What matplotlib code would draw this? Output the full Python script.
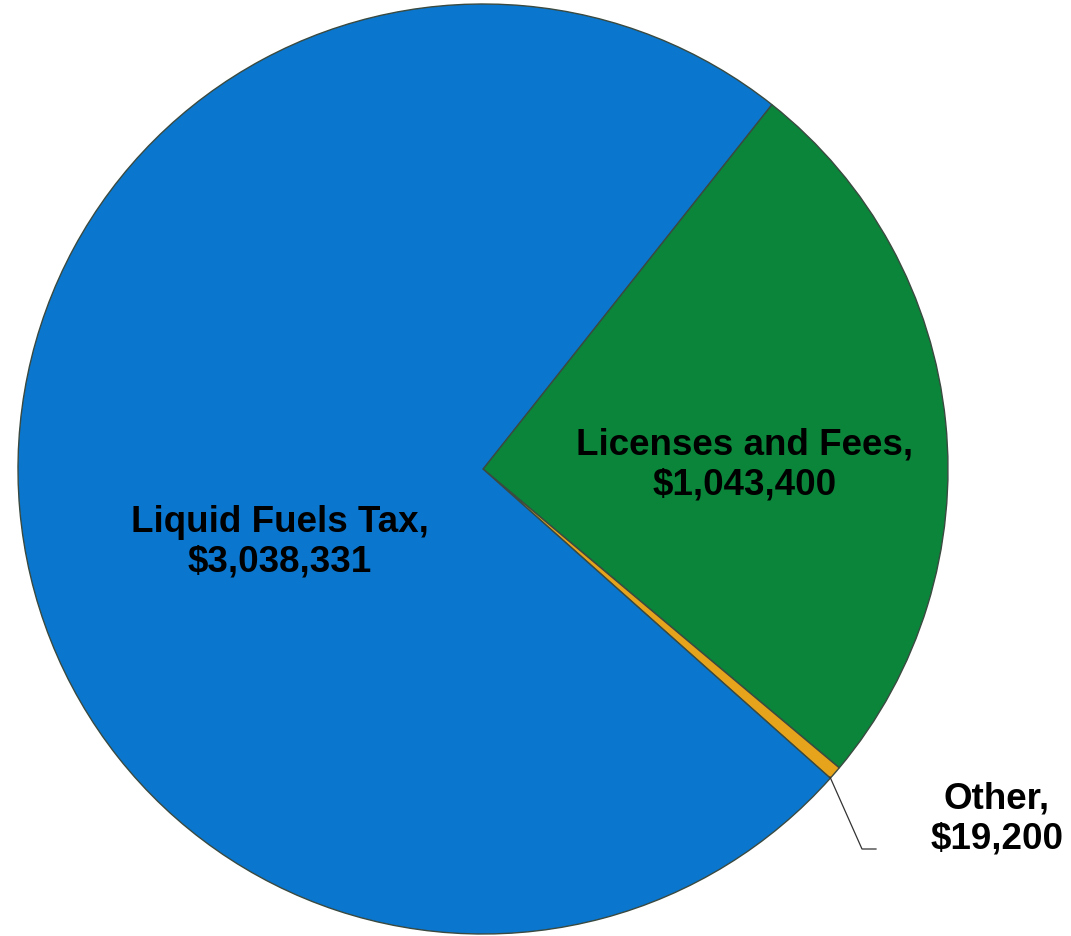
import matplotlib.pyplot as plt

# slice data (clockwise from the top-right boundary)
labels = ['Licenses and Fees', 'Other', 'Liquid Fuels Tax']
values = [1043400, 19200, 3038331]
colors = ['#0A853A', '#E6A31C', '#0A76CE']

plt.rcParams['font.family'] = ['Liberation Sans', 'DejaVu Sans']

fig = plt.figure(figsize=(10.71, 9.37), dpi=100)
ax = fig.add_axes([0, 0, 1, 1])

start = 51.6
wedges, _ = ax.pie(values, colors=colors, startangle=start, counterclock=False,
                   center=(483, 467), radius=465,
                   wedgeprops=dict(edgecolor='#3a4a40', linewidth=1.0),
                   frame=True)
ax.set_xlim(0, 1071)
ax.set_ylim(0, 937)
ax.axis('off')

def money(v):
    return '${:,}'.format(v)

fs = 26.5
ax.text(745, 472, f'{labels[0]},\n{money(values[0])}', ha='center', va='center',
        fontsize=fs, fontweight='bold', linespacing=1.18)
ax.text(280, 395, f'{labels[2]},\n{money(values[2])}', ha='center', va='center',
        fontsize=fs, fontweight='bold', linespacing=1.18)
ax.text(997, 118, f'{labels[1]},\n{money(values[1])}', ha='center', va='center',
        fontsize=fs, fontweight='bold', linespacing=1.18)

# leader line for the small slice
ax.plot([830, 862, 876], [159, 87, 87], color='#333333', lw=0.9)

fig.savefig('out.png', dpi=100)
